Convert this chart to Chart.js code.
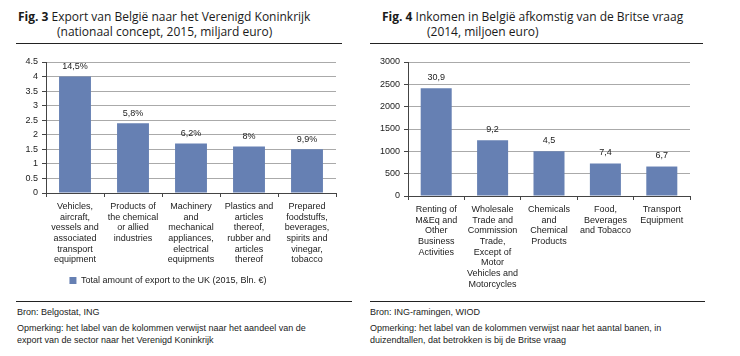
<!DOCTYPE html>
<html>
<head>
<meta charset="utf-8">
<script src="https://cdn.jsdelivr.net/npm/chart.js@4.4.1/dist/chart.umd.min.js"></script>
<style>
  html, body { margin:0; padding:0; background:#fff; }
  body { width:740px; height:356px; position:relative; overflow:hidden; }
  .t { position:absolute; font-family:"Open Sans", sans-serif; font-size:12px; color:#1a1a1a; white-space:nowrap; line-height:14px; }
  .t b { font-weight:700; }
  .rule { position:absolute; height:1px; background:#222; }
  .f { position:absolute; font-family:"Liberation Sans", Arial, sans-serif; font-size:9px; color:#222; white-space:nowrap; line-height:12px; }
  canvas { position:absolute; }
</style>
</head>
<body>
<div class="t" style="left:18px; top:10px;"><b>Fig. 3</b> Export van België naar het Verenigd Koninkrijk</div>
<div class="t" style="left:57px; top:25px;">(nationaal concept, 2015, miljard euro)</div>
<div class="rule" style="left:16px; top:43px; width:326px;"></div>

<div class="t" style="left:382px; top:10px;"><b>Fig. 4</b> Inkomen in België afkomstig van de Britse vraag</div>
<div class="t" style="left:427px; top:25px;">(2014, miljoen euro)</div>
<div class="rule" style="left:370px; top:43px; width:333px;"></div>

<div style="position:absolute; left:0; top:50px; width:365px; height:245px;"><canvas id="c1"></canvas></div>
<div style="position:absolute; left:365px; top:50px; width:375px; height:245px;"><canvas id="c2"></canvas></div>

<div class="rule" style="left:16px; top:301px; width:336px;"></div>
<div class="f" style="left:17px; top:306px;">Bron: Belgostat, ING</div>
<div class="f" style="left:17px; top:322px;">Opmerking: het label van de kolommen verwijst naar het aandeel van de</div>
<div class="f" style="left:17px; top:334px;">export van de sector naar het Verenigd Koninkrijk</div>

<div class="rule" style="left:370px; top:301px; width:335px;"></div>
<div class="f" style="left:370px; top:306px;">Bron: ING-ramingen, WIOD</div>
<div class="f" style="left:370px; top:322px;">Opmerking: het label van de kolommen verwijst naar het aantal banen, in</div>
<div class="f" style="left:370px; top:334px;">duizendtallen, dat betrokken is bij de Britse vraag</div>

<script>
// ---- Data: Fig. 3 ----
const exportCategories = [
  ["Vehicles,","aircraft,","vessels and","associated","transport","equipment"],
  ["Products of","the chemical","or allied","industries"],
  ["Machinery","and","mechanical","appliances,","electrical","equipments"],
  ["Plastics and","articles","thereof,","rubber and","articles","thereof"],
  ["Prepared","foodstuffs,","beverages,","spirits and","vinegar,","tobacco"]
];
const exportValues = [4.0, 2.4, 1.7, 1.6, 1.5];
const exportShareLabels = ["14,5%", "5,8%", "6,2%", "8%", "9,9%"];
const exportSeriesName = "Total amount of export to the UK (2015, Bln. €)";

// ---- Data: Fig. 4 ----
const incomeCategories = [
  ["Renting of","M&Eq and","Other","Business","Activities"],
  ["Wholesale","Trade and","Commission","Trade,","Except of","Motor","Vehicles and","Motorcycles"],
  ["Chemicals","and","Chemical","Products"],
  ["Food,","Beverages","and Tobacco"],
  ["Transport","Equipment"]
];
const incomeValues = [2410, 1250, 1000, 730, 660];
const incomeJobsLabels = ["30,9", "9,2", "4,5", "7,4", "6,7"];

const BAR = "#6680b3";
const FONT = { family: "'Liberation Sans', Arial, sans-serif", size: 9 };

const barLabelPlugin = {
  id: 'barLabels',
  afterDatasetsDraw(chart, args, opts) {
    const ctx = chart.ctx;
    const meta = chart.getDatasetMeta(0);
    ctx.save();
    ctx.font = "9px 'Liberation Sans', Arial, sans-serif";
    ctx.fillStyle = "#222";
    ctx.textAlign = "center";
    ctx.textBaseline = "middle";
    meta.data.forEach((bar, i) => {
      ctx.fillText(opts.labels[i], bar.x, bar.y - opts.offset);
    });
    ctx.restore();
  }
};

const plainTick = v => String(v);

function makeChart(id, cats, vals, labels, yOpts, cfg) {
  return new Chart(document.getElementById(id), {
    type: 'bar',
    data: {
      labels: cats,
      datasets: [{
        label: cfg.seriesName || "",
        data: vals,
        backgroundColor: BAR,
        borderWidth: 0,
        categoryPercentage: 1,
        barPercentage: 0.55
      }]
    },
    plugins: [barLabelPlugin],
    options: {
      responsive: true,
      maintainAspectRatio: false,
      animation: false,
      devicePixelRatio: 1,
      layout: { padding: cfg.padding },
      plugins: {
        barLabels: { labels: labels, offset: cfg.labelOffset },
        tooltip: { enabled: false },
        legend: cfg.legend ? {
          display: true,
          position: 'bottom',
          labels: { boxWidth: 7, boxHeight: 7, font: FONT, color: "#222", padding: cfg.legendPad }
        } : { display: false }
      },
      scales: {
        x: {
          grid: { drawOnChartArea: false, drawTicks: true, tickLength: 4, color: "#444", offset: true },
          border: { color: "#444", width: 1 },
          ticks: { font: FONT, color: "#222", autoSkip: false, maxRotation: 0, minRotation: 0, padding: cfg.xPad },
          afterFit(scale) { scale.height = cfg.xHeight; }
        },
        y: Object.assign({
          grid: { color: "#aaaaaa", tickLength: 4, tickColor: "#444" },
          border: { color: "#444", width: 1 },
          afterFit(scale) { scale.width = cfg.yWidth; }
        }, yOpts)
      }
    }
  });
}

Chart.defaults.font.lineHeight = 1.19;

makeChart('c1', exportCategories, exportValues, exportShareLabels,
  { min: 0, max: 4.5, ticks: { font: FONT, color: "#222", padding: 4, stepSize: 0.5, callback: plainTick } },
  { seriesName: exportSeriesName, legend: true, legendPad: 8, padding: { top: 12, right: 29, left: 0, bottom: 0 },
    yWidth: 46, xHeight: 75, xPad: 4, labelOffset: 10 });

makeChart('c2', incomeCategories, incomeValues, incomeJobsLabels,
  { min: 0, max: 3000, ticks: { font: FONT, color: "#222", padding: 4, stepSize: 500, callback: plainTick } },
  { legend: false, padding: { top: 12, right: 50, left: 0, bottom: 0 },
    yWidth: 43, xHeight: 99, xPad: 4, labelOffset: 11 });
</script>
</body>
</html>
